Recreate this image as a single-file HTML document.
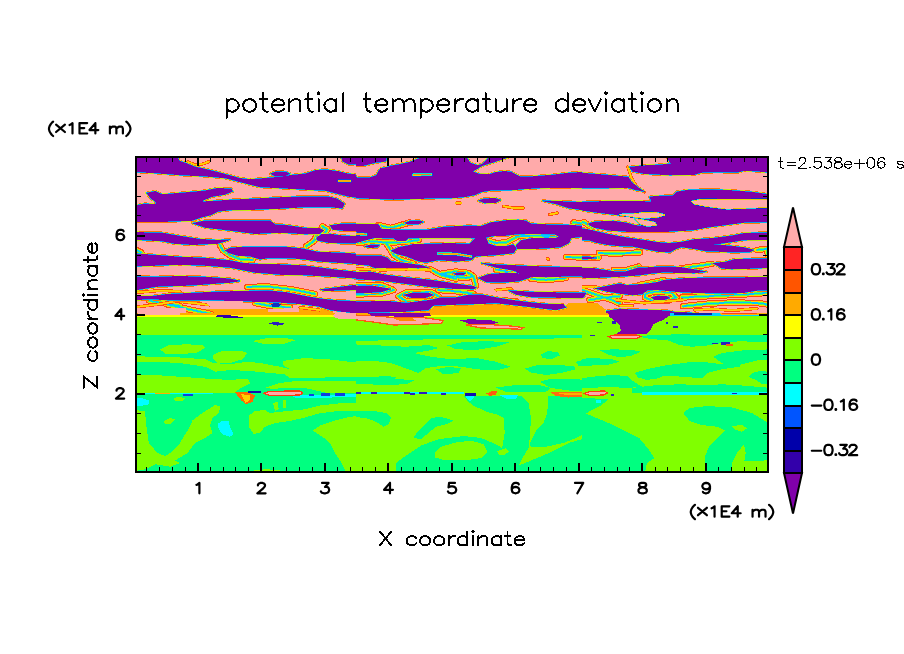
<!DOCTYPE html>
<html><head><meta charset="utf-8"><title>potential temperature deviation</title>
<style>
html,body{margin:0;padding:0;background:#fff;}
body{width:904px;height:654px;overflow:hidden;font-family:"Liberation Sans",sans-serif;}
svg{display:block;}
text{font-family:"Liberation Sans",sans-serif;fill:#000;}
.sem text{fill:#000;fill-opacity:0;stroke:none;}
</style></head><body>
<svg width="904" height="654" viewBox="0 0 904 654">
<rect width="904" height="654" fill="#fff"/>
<defs>
<clipPath id="plot"><rect x="136" y="157" width="632" height="315"/></clipPath>
<clipPath id="c1"><rect x="130" y="150" width="226" height="163"/></clipPath><clipPath id="c2"><rect x="356" y="150" width="226" height="163"/></clipPath><clipPath id="c3"><rect x="582" y="150" width="226" height="163"/></clipPath><clipPath id="c4"><rect x="130" y="313" width="226" height="163"/></clipPath><clipPath id="c5"><rect x="356" y="313" width="226" height="163"/></clipPath><clipPath id="c6"><rect x="582" y="313" width="226" height="163"/></clipPath>
<style>
.pu{fill:#8000aa;}
.pk{fill:#ffaaaa;}
.og{fill:#ffaa00;}
.yg{fill:#80ff00;}
.gr{fill:#00ff80;}
.cy{fill:#00ffff;}
.e1{fill:none;stroke:#ff7a00;stroke-width:11;stroke-linejoin:round;}
.e2{fill:none;stroke:#d8ff00;stroke-width:7.5;stroke-linejoin:round;}
.e3{fill:none;stroke:#00e0ff;stroke-width:4.5;stroke-linejoin:round;}
.e4{fill:none;stroke:#1030d0;stroke-width:2;stroke-linejoin:round;}
.ef{fill:#8000aa;stroke:none;}
.rb{fill:none;stroke-linecap:round;stroke-linejoin:round;}
.r1{stroke:#ff4a10;stroke-width:26;}
.r2{stroke:#ffd000;stroke-width:18;}
.r3{stroke:#50ff50;stroke-width:11;}
.r4{stroke:#00c8ff;stroke-width:5;}
.s1{stroke:#ff4a10;stroke-width:13;}
.s2{stroke:#ffb000;stroke-width:8;}
.s3{stroke:#fff000;stroke-width:3;}
.v1{stroke:#1040e0;stroke-width:15;}
.v2{stroke:#00e8d0;stroke-width:11;}
.v3{stroke:#e8f000;stroke-width:7;}
.v4{stroke:#ff5a20;stroke-width:3.5;}
.v5{stroke:#ffaaaa;stroke-width:3;}
.k1{fill:none;stroke:#1030d0;stroke-width:11;stroke-linejoin:round;}
.k2{fill:none;stroke:#00e0ff;stroke-width:7.5;stroke-linejoin:round;}
.k3{fill:none;stroke:#d8ff00;stroke-width:4.5;stroke-linejoin:round;}
.k4{fill:none;stroke:#ff7a00;stroke-width:2;stroke-linejoin:round;}
.kf{fill:#ffaaaa;stroke:none;}
</style>

</defs>
<g clip-path="url(#plot)" shape-rendering="crispEdges">
<rect x="136" y="157" width="632" height="160" fill="#ffaaaa"/>
<rect x="136" y="316" width="632" height="157" fill="#80ff00"/>
<g clip-path="url(#c1)"><g transform="translate(130,150) scale(0.25)">
<rect x="0" y="634" width="920" height="30" class="og"/>
<defs><g id="r1"><path d="M360 382L372 402L400 422L445 438L490 440"/><path d="M745 345L735 365L705 385"/><path d="M770 305L790 318L780 330"/><path d="M75 602L130 612L200 624"/><path d="M150 618L230 636L325 656"/><path d="M470 548L552 546L650 558L740 576"/><path d="M500 612L560 624L640 630"/><path d="M25 400L45 410L55 425"/></g></defs>
<use href="#r1" class="rb r1"/>
<use href="#r1" class="rb r2"/>
<use href="#r1" class="rb r3"/>
<use href="#r1" class="rb r4"/>
<defs><g id="s1"><path d="M200 606L300 618L400 628"/><path d="M25 628L110 618L180 606"/><path d="M30 570L120 562L200 566"/><path d="M680 630L760 640"/><path d="M232 48L262 60L290 56L315 47"/></g></defs>
<use href="#s1" class="rb s1"/>
<use href="#s1" class="rb s2"/>
<use href="#s1" class="rb s3"/>
<defs><g id="p1"><path d="M-20 0H165L200 45L225 53L260 67L300 76L350 88L400 102L440 113L480 118L550 112L600 108L650 100L700 95L740 82L780 78L830 85L870 95L920 100V192L870 185L830 175L780 162L700 158L600 152L520 148L480 138L430 125L380 112L300 105L200 100L100 92L-20 85Z"/><path d="M840 0L850 45L875 58L920 55V0Z"/><path d="M562 95L585 86L625 88L640 95L620 104L580 105Z"/><path d="M-20 222H25L60 215L100 218L105 210L85 195L65 172L100 165L130 178L200 172L300 163L350 153L405 155L412 165L380 178L330 186L295 200L290 207L400 200L500 195L600 190L700 186L790 186L830 196L858 215L850 233L800 228L700 228L600 234L500 238L400 240L352 246L325 260L290 268L250 282L150 286L-20 286Z"/><path d="M250 293L300 283L400 282L560 282L580 298L620 300L700 312L760 314L775 322L760 335L700 336L600 330L500 335L400 322L300 310Z"/><path d="M800 302L850 295L920 295V322L850 322L810 318Z"/><path d="M745 352L765 338L800 336L850 343L920 346V374L850 373L790 370L750 362Z"/><path d="M-20 329L125 331L200 344L275 356L350 361L400 358L380 366L350 374L250 379L175 374L125 364L-20 356Z"/><path d="M380 402L400 392L450 388L552 388L627 388L692 395L752 408L802 410L877 413L920 418V456L827 450L752 445L702 438L652 433L600 432L552 432L520 437L480 425L430 422L395 412Z"/><path d="M-20 412L100 420L200 428L300 432L400 442L450 452L500 456L600 458L700 463L770 472L830 480L920 489V514L800 506L700 500L600 498L500 490L400 470L300 462L200 458L100 462L-20 466Z"/><path d="M-20 505L100 508L200 505L300 508L400 515L440 524L400 530L250 541L110 546L25 560L-20 560Z"/><path d="M-20 585L85 585L150 577L250 572L350 567L452 565L552 562L627 570L702 585L762 595L827 602L920 606V654L852 647L802 640L752 625L677 615L602 610L527 607L452 605L375 602L300 600L225 602L150 600L85 596L-20 602Z"/><path d="M762 558L827 550L920 538V558L852 561L777 563Z"/></g></defs>
<use href="#p1" class="e1"/>
<use href="#p1" class="e2"/>
<use href="#p1" class="e3"/>
<use href="#p1" class="e4"/>
<use href="#p1" class="ef"/>
<defs><g id="v1"><path d="M835 124L880 124"/></g></defs>
<use href="#v1" class="rb v1"/>
<use href="#v1" class="rb v2"/>
<use href="#v1" class="rb v3"/>
<use href="#v1" class="rb v4"/>
<path d="M25 634L225 632L225 655L25 655Z" class="pk"/>
<path d="M300 606L452 604L452 634L330 634Z" class="pk"/>
<path d="M552 636L677 632L677 646L552 650Z" class="pk"/>
<path d="M812 645L920 655V680H800Z" class="pk"/>
<path d="M565 615L590 610L605 618L590 630L568 628Z" fill="#1030c0"/>
</g></g>
<g clip-path="url(#c2)"><g transform="translate(356,150) scale(0.25)">
<rect x="-20" y="634" width="940" height="30" class="og"/>
<path d="M290 664V640L310 622L400 618L500 615L560 612L700 628L800 640L830 630L850 612L920 610V664Z" class="og"/>
<defs><g id="r2"><path d="M90 300L140 312L180 300L215 290"/><path d="M0 372L60 366L130 370L200 368L250 360"/><path d="M120 372L135 395L150 420L180 440L230 455"/><path d="M520 360L560 372L600 370L640 350"/><path d="M640 345L720 343L800 345"/><path d="M340 495L400 486L450 492L470 505L440 512L380 505Z"/><path d="M300 478L340 500L400 515"/><path d="M470 505L480 545"/><path d="M170 585L200 570L300 568L330 585L300 605L200 605Z"/><path d="M0 540L100 540L150 560L100 575L0 578"/><path d="M840 428L920 430"/><path d="M870 290L920 295"/><path d="M560 478L620 488L660 494"/><path d="M700 515L760 520L840 512"/><path d="M330 560L400 565L470 575"/><path d="M480 590L560 600L640 605"/></g></defs>
<use href="#r2" class="rb r1"/>
<use href="#r2" class="rb r2"/>
<use href="#r2" class="rb r3"/>
<use href="#r2" class="rb r4"/>
<defs><g id="s2"><path d="M590 225L630 232L670 232"/><path d="M775 258L805 252"/><path d="M400 212L420 212"/><path d="M0 475L100 480L200 478L300 480"/><path d="M560 560L620 555"/><path d="M765 435L770 437"/></g></defs>
<use href="#s2" class="rb s1"/>
<use href="#s2" class="rb s2"/>
<use href="#s2" class="rb s3"/>
<defs><g id="p2"><path d="M-70 0L-54 45L-29 58L0 62L34 62L56 56L82 50L120 45L123 28V0Z"/><path d="M-40 95L-24 93L-11 97L5 110L56 110L82 101L90 85L98 74L122 69L136 64L176 57L216 48L260 30V0H442V28L457 52L487 62L507 55L532 28V0H612V28L592 35L547 50L507 62L467 86L492 96L532 98L556 90L592 85L622 88L642 100L656 106L707 106L756 102L784 100L850 92L920 88V152L850 150L784 150L732 152L682 155L622 160L542 161L502 168L476 180L432 188L382 192L332 192L150 198L0 192L-40 190Z"/><path d="M490 203L510 195L555 193L580 200L560 210L515 212Z"/><path d="M745 203L830 206L920 210V242L850 232L800 216Z"/><path d="M195 292L215 284L255 283L270 288L250 296L210 297Z"/><path d="M-20 296L90 298L100 316L180 320L280 320L350 308L452 303L500 305L540 290L600 282L650 280L680 283L700 295L760 298L850 300L920 305V345L860 352L852 372L820 388L760 393L700 395L645 395L640 380L660 362L700 354L760 352L800 353L812 345L795 337L700 335L640 337L600 342L560 342L520 350L480 352L375 351L280 351L210 353L200 363L165 363L150 353L75 351L52 357L0 371L-20 374Z"/><path d="M140 403L170 390L225 378L280 376L375 373L452 376L480 352L520 350L530 375L560 385L600 385L630 378L642 395L630 412L560 420L480 425L460 440L400 445L330 440L280 450L250 445L200 425L160 415Z"/><path d="M35 386L60 379L95 380L85 389L55 391Z"/><path d="M-20 422L100 423L125 431L140 446L200 453L260 461L290 470L250 472L200 470L130 470L75 472L50 461L-20 456Z"/><path d="M-20 490L60 488L120 500L200 510L300 520L400 535L470 545L482 551L470 556L400 555L300 548L200 535L100 522L-20 515Z"/><path d="M500 452L560 458L640 462L700 465L800 468L920 470V505L850 505L760 508L700 506L692 512L650 525L580 530L520 528L490 512L530 497L600 492L650 494L640 486L620 480L560 470Z"/><path d="M-20 545L60 543L140 556L100 568L30 572L-20 572Z"/><path d="M190 580L230 571L290 572L310 580L280 590L220 590Z"/><path d="M610 562L700 568L800 570L920 572V592L800 590L700 588L640 578Z"/><path d="M-20 606L60 606L130 605L200 612L300 600L340 590L400 590L450 580L500 578L560 590L620 600L700 610L760 616L830 618L840 630L800 640L700 628L560 612L500 615L400 618L310 622L290 640L200 646L-20 652Z"/><path d="M390 495L410 490L440 492L430 500L400 500Z"/></g></defs>
<use href="#p2" class="e1"/>
<use href="#p2" class="e2"/>
<use href="#p2" class="e3"/>
<use href="#p2" class="e4"/>
<use href="#p2" class="ef"/>
<defs><g id="v2"><path d="M330 414L400 416L460 426"/><path d="M230 99L300 98"/><path d="M-20 334L40 338"/></g></defs>
<use href="#v2" class="rb v1"/>
<use href="#v2" class="rb v2"/>
<use href="#v2" class="rb v3"/>
<use href="#v2" class="rb v4"/>
</g></g>
<g clip-path="url(#c3)"><g transform="translate(582,150) scale(0.25)">
<path d="M-48 612L60 612L97 640L97 670H-48Z" class="og"/>
<defs><g id="r3"><path d="M-28 280L10 290L40 310"/><path d="M67 412L140 414L232 410"/><path d="M-48 430L67 430"/><path d="M360 480L420 470L480 462L520 455"/><path d="M127 480L177 480L227 466"/><path d="M230 540L327 520"/><path d="M2 560L60 580L120 600L152 615"/><path d="M30 600L90 590L150 585"/><path d="M252 575L300 565L360 572L377 590L340 604L280 602L252 590Z"/><path d="M700 400L740 395L745 430"/><path d="M400 590L500 585L600 580L700 575L745 570"/><path d="M404 625L500 615L600 610L700 612L745 618"/></g></defs>
<use href="#r3" class="rb r1"/>
<use href="#r3" class="rb r2"/>
<use href="#r3" class="rb r3"/>
<use href="#r3" class="rb r4"/>
<defs><g id="s3"><path d="M183 68L197 110L217 145L250 168"/><path d="M152 622L202 622"/><path d="M137 600L250 612L404 600"/><path d="M450 640L520 636L600 642L700 634"/><path d="M-48 545L60 548"/></g></defs>
<use href="#s3" class="rb s1"/>
<use href="#s3" class="rb s2"/>
<use href="#s3" class="rb s3"/>
<defs><g id="p3"><path d="M340 0V28L355 55L300 60L250 62L190 68L200 85L250 95L350 100L450 98L480 90L540 88L620 90L650 82L700 85L760 90V0Z"/><path d="M-20 90L0 92L100 100L185 108L200 130L225 150L250 166L215 160L180 150L100 152L-20 152Z"/><path d="M-48 206L0 208L100 205L225 205L278 207L270 188L290 185L365 182L380 167L425 160L452 160L520 158L600 162L680 168L760 180V288L738 288L648 290L573 300L498 310L448 320L348 326L302 326L252 326L177 326L102 321L52 311L27 299L27 294L52 287L127 284L177 291L212 301L252 306L292 304L300 296L285 284L240 276L212 266L152 261L52 249L-48 234Z"/><path d="M-48 306L2 314L52 324L102 336L152 346L202 354L252 361L302 369L348 373L398 368L448 358L523 353L598 343L648 333L760 330V358L648 360L598 368L528 378L598 384L648 390L688 400L673 408L598 409L548 406L498 405L448 395L398 388L378 395L352 409L302 406L252 396L202 386L152 384L102 379L52 369L27 361L-48 359Z"/><path d="M523 453L573 448L608 438L648 436L760 434V470L673 474L598 476L558 473L538 460Z"/><path d="M-48 471L52 474L127 486L177 486L227 470L252 471L302 467L348 466L398 470L448 478L498 487L448 492L398 491L327 489L277 494L227 501L152 506L52 511L-48 509Z"/><path d="M52 554L102 544L152 534L177 541L252 536L302 529L327 521L377 516L404 514L500 511L650 510L760 508V561L700 562L650 570L600 573L500 572L404 569L352 564L302 559L262 561L242 576L202 580L152 574L102 566Z"/><path d="M277 590L300 584L340 585L352 592L330 599L290 599Z"/><path d="M-48 566L17 572L5 591L-48 591Z"/><path d="M-48 428L20 426L60 432L20 436L-48 436Z"/><path d="M97 644L152 636L202 639L302 641L352 644L404 659V680H97Z"/><path d="M348 648L420 650L473 656L473 670H348Z"/></g></defs>
<use href="#p3" class="e1"/>
<use href="#p3" class="e2"/>
<use href="#p3" class="e3"/>
<use href="#p3" class="e4"/>
<use href="#p3" class="ef"/>
<defs><g id="k3"><path d="M440 206L480 198L560 200L650 200L760 198V228L650 232L580 235L500 225L450 215Z"/><path d="M150 258L215 256L250 250L300 252L330 260L300 268L250 272L215 268Z"/><path d="M212 276L250 282L290 290L297 300L260 304L230 294Z"/></g></defs>
<use href="#k3" class="k1"/>
<use href="#k3" class="k2"/>
<use href="#k3" class="k3"/>
<use href="#k3" class="k4"/>
<use href="#k3" class="kf"/>
</g></g>
<g clip-path="url(#c4)"><g transform="translate(130,313) scale(0.25)">
<g class="gr"><path d="M-20 88H920V680H-20Z"/></g>
<g class="yg"><path d="M120 145L150 130L220 125L290 128L300 140L270 158L200 165L140 162Z"/><path d="M335 165L370 152L440 150L470 160L450 185L400 200L350 198L330 180Z"/><path d="M490 112L540 102L620 100L665 108L620 122L540 125Z"/><path d="M-20 172L100 175L200 178L300 185L330 200L400 205L470 195L520 200L600 215L640 225L620 245L560 240L480 232L400 228L340 235L300 215L200 200L100 195L-20 195Z"/><path d="M610 192L700 180L800 186L920 200V256L850 255L780 258L700 258L640 262L620 245L640 225L615 212Z"/><path d="M545 298L600 280L680 270L780 272L860 270L920 272V318L780 318L700 300L620 298L570 305Z"/><path d="M-20 245L100 248L200 255L300 262L400 268L470 262L482 282L440 302L418 318L-20 318Z"/><path d="M-20 385L60 392L65 450L75 520L110 560L160 580L200 600L160 615L100 605L60 625L-20 640Z"/><path d="M340 368L362 375L355 400L330 420L320 450L330 480L300 500L260 520L230 560L180 590L130 600L120 585L160 560L200 520L230 470L250 430L290 400Z"/><path d="M135 432L160 420L180 425L165 442L140 445Z"/><path d="M175 340L200 335L222 342L210 352L180 352Z"/><path d="M475 410L500 392L540 388L560 400L600 395L700 385L760 370L830 362L920 358V392L830 392L755 402L700 418L640 432L580 440L540 455L520 478L495 485L478 460Z"/><path d="M730 470L760 450L820 430L880 415L920 412V650H870L850 610L840 590L820 560L800 520L770 495Z"/><path d="M572 360L590 355L595 385L580 392Z"/><path d="M610 350L625 348L622 380L612 378Z"/><path d="M480 632L540 625L600 628L600 640L480 640Z"/></g>
<g class="cy"><path d="M-20 340L40 338L75 350L78 365L40 372L-20 370Z"/><path d="M350 445L370 430L395 432L400 455L415 485L400 495L370 485L355 465Z"/><path d="M0 319H330V324H0Z"/><path d="M640 326L760 330L904 322V334L760 340L660 338Z"/></g>
<rect x="-20" y="-10" width="940" height="20" class="og"/>
<rect x="-20" y="9" width="940" height="5" fill="#ffff00"/>
<path d="M810 9L830 -5H920V22L850 25L820 20Z" class="pk"/>
<path d="M30 0H200V6H30Z" class="pk"/>
<path d="M330 12L380 6L430 14L460 20L400 22Z" fill="#3300aa"/>
<path d="M555 42L580 35L625 44L590 50Z" fill="#2a20c0"/>
<path d="M418 316L470 316L500 330L490 355L465 365L445 350L430 330Z" fill="#ff6a00"/>
<path d="M445 325L480 328L478 350L462 358Z" fill="#ffd000"/>
<path d="M535 321L560 313L680 312L692 320L680 328L560 331Z" fill="#ffaaaa" stroke="#ff3a10" stroke-width="5"/>
<path d="M470 312H525V320H470Z" fill="#1010b0"/>
<path d="M210 322H250V332H210ZM715 322H735V331H715ZM765 320H800V332H765ZM820 320H860V330H820Z" fill="#1040e0"/>
<path d="M100 318H160V323H100Z" fill="#ffb000"/>
</g></g>
<g clip-path="url(#c5)"><g transform="translate(356,313) scale(0.25)">
<g class="gr"><path d="M-20 88H920V100L600 105L400 102L200 108L-20 112Z"/><path d="M-20 125L100 130L200 135L290 128L330 140L290 150L230 160L300 175L380 185L480 180L560 195L620 215L560 230L480 225L420 215L350 210L280 220L250 240L200 222L140 200L60 190L-20 190Z"/><path d="M365 130L420 118L520 112L610 118L560 135L480 148L400 145Z"/><path d="M740 165L770 152L810 158L815 170L780 185L745 180Z"/><path d="M675 222L720 210L800 208L870 212L880 225L820 240L760 248L700 238Z"/><path d="M735 275L780 262L850 262L920 268V310L850 310L780 300Z"/><path d="M880 195L920 185V215L890 212Z"/><path d="M60 262L100 252L160 255L150 275L90 280Z"/><path d="M320 225L370 215L420 222L410 240L350 245Z"/><path d="M560 298L640 288L740 290L780 300L760 315L600 316Z"/><path d="M-20 258L60 255L150 262L230 270L200 285L120 288L40 285L-20 286Z"/><path d="M-20 392L60 390L120 400L140 420L130 445L110 455L80 435L40 420L-20 415Z"/><path d="M430 330L560 330L660 330L690 360L700 420L695 500L690 540L660 590L650 610L600 600L585 540L595 480L590 420L560 405L520 395L490 380L470 372L450 355Z"/><path d="M770 330H920V480L880 500L830 520L760 535L700 538L695 520L720 470L750 440L765 400Z"/><path d="M230 500L250 470L280 440L300 420L340 415L390 430L360 445L320 455L290 480L260 505Z"/><path d="M160 600L200 570L260 530L330 505L430 492L500 500L560 525L585 540L600 600L650 610L700 590L760 565L800 545L850 520L920 500V650H160Z"/></g>
<g class="yg"><path d="M315 560L340 535L400 518L460 510L510 525L525 555L500 580L430 590L350 588L318 578Z"/><path d="M565 552L600 540L612 555L590 570L568 565Z"/></g>
<g class="cy"><path d="M0 316H430V324H0Z"/><path d="M570 326L650 326L640 345L600 342Z"/><path d="M435 322L480 322L470 340L455 355L440 340Z"/></g>
<rect x="-20" y="-10" width="940" height="20" class="og"/>
<rect x="-20" y="9" width="940" height="5" fill="#ffff00"/>
<path d="M-20 8L60 10L150 18L250 16L350 30L340 42L250 45L150 48L60 35L-20 25Z" class="pk" stroke="#ff5a10" stroke-width="5"/>
<path d="M150 22L220 18L240 30L180 34Z" fill="#ff8a00"/>
<path d="M40 -5H290L300 12L240 16L150 14L60 10Z" class="pu"/>
<path d="M440 48L520 46L600 50L670 58L660 65L580 62L500 60Z" class="pk" stroke="#ff5a10" stroke-width="5"/>
<path d="M418 30L450 25L540 28L568 38L540 46L450 42Z" class="pu"/>
<path d="M0 316H20V323H0ZM60 316H82V323H60ZM190 316H215V324H190ZM215 320H235V328H215ZM250 316H285V324H250ZM340 319H360V326H340Z" fill="#2a20c0"/>
<path d="M435 320H480V332H435Z" fill="#1010b0"/>
<path d="M520 322L545 312L565 314L560 326L535 332Z" fill="#ff5a10"/>
<path d="M780 318L830 314L920 318V336L850 338L800 332Z" fill="#ff6a10"/>
<path d="M800 320L860 318L920 322V328L850 330Z" fill="#ffb000"/>
</g></g>
<g clip-path="url(#c6)"><g transform="translate(582,313) scale(0.25)">
<g class="gr"><path d="M230 95L270 88L400 85L500 88L600 90L760 88V115L700 118L640 112L560 120L500 130L440 135L390 128L340 108L280 105Z"/><path d="M70 150L120 145L200 148L235 155L200 170L150 178L110 168Z"/><path d="M-20 185L40 180L120 185L150 195L100 208L-20 212Z"/><path d="M525 175L560 160L640 150L760 145V185L700 190L640 205L600 215L560 200Z"/><path d="M210 240L260 225L330 210L420 198L480 195L560 205L640 200L630 215L560 225L500 240L480 262L440 258L400 255L330 250L300 262L260 268L225 258Z"/><path d="M665 255L690 235L730 232L760 240V285L720 285L700 270Z"/><path d="M-20 265L40 255L120 248L180 252L200 270L240 295L180 300L100 295L40 300L-20 300Z"/><path d="M200 300L300 288L400 285L480 290L560 285L640 290L760 300V320H200Z"/><path d="M-20 338L106 345L76 370L26 395L16 403L-20 403Z"/><path d="M-20 400L16 402L106 440L229 500L270 550L290 580L260 600L250 650H-20Z"/><path d="M405 400L430 380L500 372L600 378L680 400L745 440L760 450V650H490L490 580L510 530L545 495L570 470L540 455L480 448L430 432Z"/></g>
<g class="yg"><path d="M600 452L640 448L660 462L640 475L610 465Z"/><path d="M600 650L600 600L620 560L648 525L655 560L650 590L700 592L760 588V650Z"/></g>
<g class="cy"><path d="M240 316H760V327H240Z"/><path d="M55 348H75V358H55Z"/></g>
<rect x="-20" y="-10" width="130" height="20" class="og"/>
<rect x="-20" y="9" width="130" height="5" fill="#ffff00"/>
<path d="M340 -5H760V10L700 14L600 12L500 14L420 10L350 12Z" fill="#00d0ff"/>
<path d="M360 -5H520V6L440 8L370 6Z" fill="#1020b0"/>
<path d="M540 -5H760V8L640 10L560 8Z" fill="#ffb000"/>
<path d="M560 -5H700V4H560Z" fill="#ff4a10"/>
<path d="M100 -10L110 15L130 30L150 50L155 70L140 82L260 82L275 65L285 45L330 25L350 10L355 -10Z" class="pu"/>
<path d="M120 30H135V45H120ZM335 35H345V45H335ZM365 52H385V58H365ZM60 35H80V40H60ZM30 86H50V91H30Z" fill="#2a20c0"/>
<path d="M105 95L130 88L220 88L235 95L215 102L125 102Z" fill="#ffaaaa" stroke="#ff3a10" stroke-width="5"/>
<path d="M520 118H545V124H520ZM555 115H590V128H555Z" fill="#2a20c0"/>
<path d="M575 122H605V130H575Z" fill="#ff5a10"/>
<path d="M10 322L30 314L90 312L102 320L88 328L30 330Z" fill="#ffaaaa" stroke="#ff3a10" stroke-width="5"/>
<path d="M115 322H128V332H115ZM600 318H620V324H600Z" fill="#2a20c0"/>
</g></g>
</g>
<g stroke="#000" fill="none" shape-rendering="crispEdges">
<path d="M146.5 471V467M146.5 158V162" stroke-width="1"/><path d="M159.5 471V467M159.5 158V162" stroke-width="1"/><path d="M172.5 471V467M172.5 158V162" stroke-width="1"/><path d="M185.5 471V467M185.5 158V162" stroke-width="1"/><path d="M198 471V463M198 158V166" stroke-width="2"/><path d="M210.5 471V467M210.5 158V162" stroke-width="1"/><path d="M223.5 471V467M223.5 158V162" stroke-width="1"/><path d="M235.5 471V467M235.5 158V162" stroke-width="1"/><path d="M248.5 471V467M248.5 158V162" stroke-width="1"/><path d="M261 471V463M261 158V166" stroke-width="2"/><path d="M273.5 471V467M273.5 158V162" stroke-width="1"/><path d="M286.5 471V467M286.5 158V162" stroke-width="1"/><path d="M299.5 471V467M299.5 158V162" stroke-width="1"/><path d="M312.5 471V467M312.5 158V162" stroke-width="1"/><path d="M325 471V463M325 158V166" stroke-width="2"/><path d="M337.5 471V467M337.5 158V162" stroke-width="1"/><path d="M350.5 471V467M350.5 158V162" stroke-width="1"/><path d="M362.5 471V467M362.5 158V162" stroke-width="1"/><path d="M375.5 471V467M375.5 158V162" stroke-width="1"/><path d="M388 471V463M388 158V166" stroke-width="2"/><path d="M401.5 471V467M401.5 158V162" stroke-width="1"/><path d="M413.5 471V467M413.5 158V162" stroke-width="1"/><path d="M426.5 471V467M426.5 158V162" stroke-width="1"/><path d="M439.5 471V467M439.5 158V162" stroke-width="1"/><path d="M452 471V463M452 158V166" stroke-width="2"/><path d="M464.5 471V467M464.5 158V162" stroke-width="1"/><path d="M477.5 471V467M477.5 158V162" stroke-width="1"/><path d="M489.5 471V467M489.5 158V162" stroke-width="1"/><path d="M502.5 471V467M502.5 158V162" stroke-width="1"/><path d="M515 471V463M515 158V166" stroke-width="2"/><path d="M528.5 471V467M528.5 158V162" stroke-width="1"/><path d="M540.5 471V467M540.5 158V162" stroke-width="1"/><path d="M553.5 471V467M553.5 158V162" stroke-width="1"/><path d="M566.5 471V467M566.5 158V162" stroke-width="1"/><path d="M579 471V463M579 158V166" stroke-width="2"/><path d="M591.5 471V467M591.5 158V162" stroke-width="1"/><path d="M604.5 471V467M604.5 158V162" stroke-width="1"/><path d="M617.5 471V467M617.5 158V162" stroke-width="1"/><path d="M629.5 471V467M629.5 158V162" stroke-width="1"/><path d="M642 471V463M642 158V166" stroke-width="2"/><path d="M655.5 471V467M655.5 158V162" stroke-width="1"/><path d="M667.5 471V467M667.5 158V162" stroke-width="1"/><path d="M680.5 471V467M680.5 158V162" stroke-width="1"/><path d="M693.5 471V467M693.5 158V162" stroke-width="1"/><path d="M706 471V463M706 158V166" stroke-width="2"/><path d="M718.5 471V467M718.5 158V162" stroke-width="1"/><path d="M731.5 471V467M731.5 158V162" stroke-width="1"/><path d="M744.5 471V467M744.5 158V162" stroke-width="1"/><path d="M756.5 471V467M756.5 158V162" stroke-width="1"/>
<path d="M137 453.5H141M767 453.5H763" stroke-width="1"/><path d="M137 433.5H141M767 433.5H763" stroke-width="1"/><path d="M137 413.5H141M767 413.5H763" stroke-width="1"/><path d="M137 394H145M767 394H759" stroke-width="2"/><path d="M137 374.5H141M767 374.5H763" stroke-width="1"/><path d="M137 354.5H141M767 354.5H763" stroke-width="1"/><path d="M137 334.5H141M767 334.5H763" stroke-width="1"/><path d="M137 315H145M767 315H759" stroke-width="2"/><path d="M137 295.5H141M767 295.5H763" stroke-width="1"/><path d="M137 275.5H141M767 275.5H763" stroke-width="1"/><path d="M137 255.5H141M767 255.5H763" stroke-width="1"/><path d="M137 236H145M767 236H759" stroke-width="2"/><path d="M137 215.5H141M767 215.5H763" stroke-width="1"/><path d="M137 196.5H141M767 196.5H763" stroke-width="1"/><path d="M137 176.5H141M767 176.5H763" stroke-width="1"/>
<rect x="136" y="157" width="632" height="315" stroke-width="2"/>
</g>
<g stroke="#000" stroke-width="2" stroke-linejoin="miter">
<rect x="784" y="247" width="18" height="23" fill="#ff2424" shape-rendering="crispEdges"/><rect x="784" y="270" width="18" height="23" fill="#ff5500" shape-rendering="crispEdges"/><rect x="784" y="293" width="18" height="22" fill="#ffaa00" shape-rendering="crispEdges"/><rect x="784" y="315" width="18" height="23" fill="#ffff00" shape-rendering="crispEdges"/><rect x="784" y="338" width="18" height="22" fill="#80ff00" shape-rendering="crispEdges"/><rect x="784" y="360" width="18" height="23" fill="#00ff80" shape-rendering="crispEdges"/><rect x="784" y="383" width="18" height="23" fill="#00ffff" shape-rendering="crispEdges"/><rect x="784" y="406" width="18" height="22" fill="#0055ff" shape-rendering="crispEdges"/><rect x="784" y="428" width="18" height="23" fill="#0000aa" shape-rendering="crispEdges"/><rect x="784" y="451" width="18" height="22" fill="#3300aa" shape-rendering="crispEdges"/><path d="M784 247L793 207.5L802 247Z" fill="#ffaaaa"/><path d="M784 473L793 513.5L802 473Z" fill="#8000aa"/>
</g>
<g transform="translate(193.89,493.30) scale(0.59,0.495)" stroke-width="2.2" fill="none" stroke="#000" stroke-linecap="round" stroke-linejoin="round"><path vector-effect="non-scaling-stroke" transform="translate(-1.65,0)" d="M6 -17L8 -18L11 -21V0"/></g>
<g transform="translate(256.53,493.30) scale(0.59,0.495)" stroke-width="2.2" fill="none" stroke="#000" stroke-linecap="round" stroke-linejoin="round"><path vector-effect="non-scaling-stroke" transform="translate(-1.65,0)" d="M4 -16L4 -17L5 -19L6 -20L8 -21L12 -21L14 -20L15 -19L16 -17L16 -15L15 -13L13 -10L3 0L17 0"/></g>
<g transform="translate(320.06,493.30) scale(0.59,0.495)" stroke-width="2.2" fill="none" stroke="#000" stroke-linecap="round" stroke-linejoin="round"><path vector-effect="non-scaling-stroke" transform="translate(-1.65,0)" d="M5 -21L16 -21L10 -13L13 -13L15 -12L16 -11L17 -8L17 -6L16 -3L14 -1L11 0L8 0L5 -1L4 -2L3 -4"/></g>
<g transform="translate(383.30,493.30) scale(0.59,0.495)" stroke-width="2.2" fill="none" stroke="#000" stroke-linecap="round" stroke-linejoin="round"><path vector-effect="non-scaling-stroke" transform="translate(-1.65,0)" d="M13 -21L3 -7H18M13 -21V0"/></g>
<g transform="translate(447.12,493.30) scale(0.59,0.495)" stroke-width="2.2" fill="none" stroke="#000" stroke-linecap="round" stroke-linejoin="round"><path vector-effect="non-scaling-stroke" transform="translate(-1.65,0)" d="M15 -21L5 -21L4 -12L5 -13L8 -14L11 -14L14 -13L16 -11L17 -8L17 -6L16 -3L14 -1L11 0L8 0L5 -1L4 -2L3 -4"/></g>
<g transform="translate(510.36,493.30) scale(0.59,0.495)" stroke-width="2.2" fill="none" stroke="#000" stroke-linecap="round" stroke-linejoin="round"><path vector-effect="non-scaling-stroke" transform="translate(-1.65,0)" d="M16 -18L15 -20L12 -21L10 -21L7 -20L5 -17L4 -12L4 -7L5 -3L7 -1L10 0L11 0L14 -1L16 -3L17 -6L17 -7L16 -10L14 -12L11 -13L10 -13L7 -12L5 -10L4 -7"/></g>
<g transform="translate(574.18,493.30) scale(0.59,0.495)" stroke-width="2.2" fill="none" stroke="#000" stroke-linecap="round" stroke-linejoin="round"><path vector-effect="non-scaling-stroke" transform="translate(-1.65,0)" d="M17 -21L7 0M3 -21H17"/></g>
<g transform="translate(637.71,493.30) scale(0.59,0.495)" stroke-width="2.2" fill="none" stroke="#000" stroke-linecap="round" stroke-linejoin="round"><path vector-effect="non-scaling-stroke" transform="translate(-1.65,0)" d="M8 -21L5 -20L4 -18L4 -16L5 -14L7 -13L11 -12L14 -11L16 -9L17 -7L17 -4L16 -2L15 -1L12 0L8 0L5 -1L4 -2L3 -4L3 -7L4 -9L6 -11L9 -12L13 -13L15 -14L16 -16L16 -18L15 -20L12 -21L8 -21"/></g>
<g transform="translate(701.54,493.30) scale(0.59,0.495)" stroke-width="2.2" fill="none" stroke="#000" stroke-linecap="round" stroke-linejoin="round"><path vector-effect="non-scaling-stroke" transform="translate(-1.65,0)" d="M16 -14L15 -11L13 -9L10 -8L9 -8L6 -9L4 -11L3 -14L3 -15L4 -18L6 -20L9 -21L10 -21L13 -20L15 -18L16 -14L16 -9L15 -4L13 -1L10 0L8 0L5 -1L4 -3"/></g>
<g transform="translate(115.14,398.60) scale(0.59,0.495)" stroke-width="2.2" fill="none" stroke="#000" stroke-linecap="round" stroke-linejoin="round"><path vector-effect="non-scaling-stroke" transform="translate(-1.65,0)" d="M4 -16L4 -17L5 -19L6 -20L8 -21L12 -21L14 -20L15 -19L16 -17L16 -15L15 -13L13 -10L3 0L17 0"/></g>
<g transform="translate(114.55,319.40) scale(0.59,0.495)" stroke-width="2.2" fill="none" stroke="#000" stroke-linecap="round" stroke-linejoin="round"><path vector-effect="non-scaling-stroke" transform="translate(-1.65,0)" d="M13 -21L3 -7H18M13 -21V0"/></g>
<g transform="translate(115.14,240.20) scale(0.59,0.495)" stroke-width="2.2" fill="none" stroke="#000" stroke-linecap="round" stroke-linejoin="round"><path vector-effect="non-scaling-stroke" transform="translate(-1.65,0)" d="M16 -18L15 -20L12 -21L10 -21L7 -20L5 -17L4 -12L4 -7L5 -3L7 -1L10 0L11 0L14 -1L16 -3L17 -6L17 -7L16 -10L14 -12L11 -13L10 -13L7 -12L5 -10L4 -7"/></g>
<g transform="translate(811.00,274.40) scale(0.59,0.495)" stroke-width="2.2" fill="none" stroke="#000" stroke-linecap="round" stroke-linejoin="round"><path vector-effect="non-scaling-stroke" transform="translate(-1.65,0)" d="M9 -21L6 -20L4 -17L3 -12L3 -9L4 -4L6 -1L9 0L11 0L14 -1L16 -4L17 -9L17 -12L16 -17L14 -20L11 -21L9 -21"/><path vector-effect="non-scaling-stroke" transform="translate(15.88,0)" d="M4.5 -1.6H5.5V-0.4H4.5Z"/><path vector-effect="non-scaling-stroke" transform="translate(23.40,0)" d="M5 -21L16 -21L10 -13L13 -13L15 -12L16 -11L17 -8L17 -6L16 -3L14 -1L11 0L8 0L5 -1L4 -2L3 -4"/><path vector-effect="non-scaling-stroke" transform="translate(40.10,0)" d="M4 -16L4 -17L5 -19L6 -20L8 -21L12 -21L14 -20L15 -19L16 -17L16 -15L15 -13L13 -10L3 0L17 0"/></g>
<g transform="translate(811.00,319.60) scale(0.59,0.495)" stroke-width="2.2" fill="none" stroke="#000" stroke-linecap="round" stroke-linejoin="round"><path vector-effect="non-scaling-stroke" transform="translate(-1.65,0)" d="M9 -21L6 -20L4 -17L3 -12L3 -9L4 -4L6 -1L9 0L11 0L14 -1L16 -4L17 -9L17 -12L16 -17L14 -20L11 -21L9 -21"/><path vector-effect="non-scaling-stroke" transform="translate(15.88,0)" d="M4.5 -1.6H5.5V-0.4H4.5Z"/><path vector-effect="non-scaling-stroke" transform="translate(23.40,0)" d="M6 -17L8 -18L11 -21V0"/><path vector-effect="non-scaling-stroke" transform="translate(40.10,0)" d="M16 -18L15 -20L12 -21L10 -21L7 -20L5 -17L4 -12L4 -7L5 -3L7 -1L10 0L11 0L14 -1L16 -3L17 -6L17 -7L16 -10L14 -12L11 -13L10 -13L7 -12L5 -10L4 -7"/></g>
<g transform="translate(811.00,364.80) scale(0.59,0.495)" stroke-width="2.2" fill="none" stroke="#000" stroke-linecap="round" stroke-linejoin="round"><path vector-effect="non-scaling-stroke" transform="translate(-1.65,0)" d="M9 -21L6 -20L4 -17L3 -12L3 -9L4 -4L6 -1L9 0L11 0L14 -1L16 -4L17 -9L17 -12L16 -17L14 -20L11 -21L9 -21"/></g>
<g transform="translate(810.71,410.00) scale(0.59,0.495)" stroke-width="2.2" fill="none" stroke="#000" stroke-linecap="round" stroke-linejoin="round"><path vector-effect="non-scaling-stroke" transform="translate(-2.14,0)" d="M4 -9H20"/><path vector-effect="non-scaling-stroke" transform="translate(20.06,0)" d="M9 -21L6 -20L4 -17L3 -12L3 -9L4 -4L6 -1L9 0L11 0L14 -1L16 -4L17 -9L17 -12L16 -17L14 -20L11 -21L9 -21"/><path vector-effect="non-scaling-stroke" transform="translate(37.58,0)" d="M4.5 -1.6H5.5V-0.4H4.5Z"/><path vector-effect="non-scaling-stroke" transform="translate(45.11,0)" d="M6 -17L8 -18L11 -21V0"/><path vector-effect="non-scaling-stroke" transform="translate(61.81,0)" d="M16 -18L15 -20L12 -21L10 -21L7 -20L5 -17L4 -12L4 -7L5 -3L7 -1L10 0L11 0L14 -1L16 -3L17 -6L17 -7L16 -10L14 -12L11 -13L10 -13L7 -12L5 -10L4 -7"/></g>
<g transform="translate(810.71,455.20) scale(0.59,0.495)" stroke-width="2.2" fill="none" stroke="#000" stroke-linecap="round" stroke-linejoin="round"><path vector-effect="non-scaling-stroke" transform="translate(-2.14,0)" d="M4 -9H20"/><path vector-effect="non-scaling-stroke" transform="translate(20.06,0)" d="M9 -21L6 -20L4 -17L3 -12L3 -9L4 -4L6 -1L9 0L11 0L14 -1L16 -4L17 -9L17 -12L16 -17L14 -20L11 -21L9 -21"/><path vector-effect="non-scaling-stroke" transform="translate(37.58,0)" d="M4.5 -1.6H5.5V-0.4H4.5Z"/><path vector-effect="non-scaling-stroke" transform="translate(45.11,0)" d="M5 -21L16 -21L10 -13L13 -13L15 -12L16 -11L17 -8L17 -6L16 -3L14 -1L11 0L8 0L5 -1L4 -2L3 -4"/><path vector-effect="non-scaling-stroke" transform="translate(61.81,0)" d="M4 -16L4 -17L5 -19L6 -20L8 -21L12 -21L14 -20L15 -19L16 -17L16 -15L15 -13L13 -10L3 0L17 0"/></g>
<g transform="translate(46.88,133.50) scale(0.59,0.495)" stroke-width="2.2" fill="none" stroke="#000" stroke-linecap="round" stroke-linejoin="round"><path vector-effect="non-scaling-stroke" transform="translate(-0.40,0)" d="M11 -24L9 -22L7 -19L5 -15L4 -11L4 -8L5 -4L7 0L9 3L11 5"/><path vector-effect="non-scaling-stroke" transform="translate(12.59,0)" d="M3 -18L18 -3M18 -18L3 -3"/><path vector-effect="non-scaling-stroke" transform="translate(32.42,0)" d="M6 -17L8 -18L11 -21V0"/><path vector-effect="non-scaling-stroke" transform="translate(51.30,0)" d="M4 -21V0M4 -21H17M4 -11H12M4 0H17"/><path vector-effect="non-scaling-stroke" transform="translate(69.18,0)" d="M13 -21L3 -7H18M13 -21V0"/><path vector-effect="non-scaling-stroke" transform="translate(102.83,0)" d="M4 -14V0M4 -10L7 -13L9 -14L12 -14L14 -13L15 -10L15 0M15 -10L18 -13L20 -14L23 -14L25 -13L26 -10L26 0"/><path vector-effect="non-scaling-stroke" transform="translate(131.56,0)" d="M3 -24L5 -22L7 -19L9 -15L10 -11L10 -8L9 -4L7 0L5 3L3 5"/></g>
<g transform="translate(688.63,516.70) scale(0.59,0.495)" stroke-width="2.2" fill="none" stroke="#000" stroke-linecap="round" stroke-linejoin="round"><path vector-effect="non-scaling-stroke" transform="translate(-0.32,0)" d="M11 -24L9 -22L7 -19L5 -15L4 -11L4 -8L5 -4L7 0L9 3L11 5"/><path vector-effect="non-scaling-stroke" transform="translate(12.89,0)" d="M3 -18L18 -3M18 -18L3 -3"/><path vector-effect="non-scaling-stroke" transform="translate(32.96,0)" d="M6 -17L8 -18L11 -21V0"/><path vector-effect="non-scaling-stroke" transform="translate(52.08,0)" d="M4 -21V0M4 -21H17M4 -11H12M4 0H17"/><path vector-effect="non-scaling-stroke" transform="translate(70.20,0)" d="M13 -21L3 -7H18M13 -21V0"/><path vector-effect="non-scaling-stroke" transform="translate(104.34,0)" d="M4 -14V0M4 -10L7 -13L9 -14L12 -14L14 -13L15 -10L15 0M15 -10L18 -13L20 -14L23 -14L25 -13L26 -10L26 0"/><path vector-effect="non-scaling-stroke" transform="translate(133.34,0)" d="M3 -24L5 -22L7 -19L9 -15L10 -11L10 -8L9 -4L7 0L5 3L3 5"/></g>
<g transform="translate(223.32,111.50) scale(1.0,0.87)" stroke-width="2.0" fill="none" stroke="#000" stroke-linecap="round" stroke-linejoin="round" shape-rendering="crispEdges"><path vector-effect="non-scaling-stroke" transform="translate(-0.72,0)" d="M4 -14V7M4 -11L6 -13L8 -14L11 -14L13 -13L15 -11L16 -8L16 -6L15 -3L13 -1L11 0L8 0L6 -1L4 -3"/><path vector-effect="non-scaling-stroke" transform="translate(16.84,0)" d="M8 -14L6 -13L4 -11L3 -8L3 -6L4 -3L6 -1L8 0L11 0L13 -1L15 -3L16 -6L16 -8L15 -11L13 -13L11 -14L8 -14"/><path vector-effect="non-scaling-stroke" transform="translate(34.66,0)" d="M5 -21L5 -4L6 -1L8 0L10 0M2 -14H9"/><path vector-effect="non-scaling-stroke" transform="translate(45.53,0)" d="M3 -8L15 -8L15 -10L14 -12L13 -13L11 -14L8 -14L6 -13L4 -11L3 -8L3 -6L4 -3L6 -1L8 0L11 0L13 -1L15 -3"/><path vector-effect="non-scaling-stroke" transform="translate(62.12,0)" d="M4 -14V0M4 -10L7 -13L9 -14L12 -14L14 -13L15 -10L15 0"/><path vector-effect="non-scaling-stroke" transform="translate(79.95,0)" d="M5 -21L5 -4L6 -1L8 0L10 0M2 -14H9"/><path vector-effect="non-scaling-stroke" transform="translate(91.19,0)" d="M3 -21L4 -20L5 -21L4 -22ZM4 -14V0"/><path vector-effect="non-scaling-stroke" transform="translate(98.16,0)" d="M15 -14V0M15 -11L13 -13L11 -14L8 -14L6 -13L4 -11L3 -8L3 -6L4 -3L6 -1L8 0L11 0L13 -1L15 -3"/><path vector-effect="non-scaling-stroke" transform="translate(116.14,0)" d="M4 -21V0"/><path vector-effect="non-scaling-stroke" transform="translate(138.17,0)" d="M5 -21L5 -4L6 -1L8 0L10 0M2 -14H9"/><path vector-effect="non-scaling-stroke" transform="translate(149.03,0)" d="M3 -8L15 -8L15 -10L14 -12L13 -13L11 -14L8 -14L6 -13L4 -11L3 -8L3 -6L4 -3L6 -1L8 0L11 0L13 -1L15 -3"/><path vector-effect="non-scaling-stroke" transform="translate(165.21,0)" d="M4 -14V0M4 -10L7 -13L9 -14L12 -14L14 -13L15 -10L15 0M15 -10L18 -13L20 -14L23 -14L25 -13L26 -10L26 0"/><path vector-effect="non-scaling-stroke" transform="translate(193.35,0)" d="M4 -14V7M4 -11L6 -13L8 -14L11 -14L13 -13L15 -11L16 -8L16 -6L15 -3L13 -1L11 0L8 0L6 -1L4 -3"/><path vector-effect="non-scaling-stroke" transform="translate(210.95,0)" d="M3 -8L15 -8L15 -10L14 -12L13 -13L11 -14L8 -14L6 -13L4 -11L3 -8L3 -6L4 -3L6 -1L8 0L11 0L13 -1L15 -3"/><path vector-effect="non-scaling-stroke" transform="translate(227.77,0)" d="M4 -14V0M4 -8L5 -11L7 -13L9 -14L12 -14"/><path vector-effect="non-scaling-stroke" transform="translate(239.56,0)" d="M15 -14V0M15 -11L13 -13L11 -14L8 -14L6 -13L4 -11L3 -8L3 -6L4 -3L6 -1L8 0L11 0L13 -1L15 -3"/><path vector-effect="non-scaling-stroke" transform="translate(257.39,0)" d="M5 -21L5 -4L6 -1L8 0L10 0M2 -14H9"/><path vector-effect="non-scaling-stroke" transform="translate(268.21,0)" d="M4 -14L4 -4L5 -1L7 0L10 0L12 -1L15 -4M15 -14V0"/><path vector-effect="non-scaling-stroke" transform="translate(286.00,0)" d="M4 -14V0M4 -8L5 -11L7 -13L9 -14L12 -14"/><path vector-effect="non-scaling-stroke" transform="translate(297.82,0)" d="M3 -8L15 -8L15 -10L14 -12L13 -13L11 -14L8 -14L6 -13L4 -11L3 -8L3 -6L4 -3L6 -1L8 0L11 0L13 -1L15 -3"/><path vector-effect="non-scaling-stroke" transform="translate(329.20,0)" d="M15 -21V0M15 -11L13 -13L11 -14L8 -14L6 -13L4 -11L3 -8L3 -6L4 -3L6 -1L8 0L11 0L13 -1L15 -3"/><path vector-effect="non-scaling-stroke" transform="translate(346.80,0)" d="M3 -8L15 -8L15 -10L14 -12L13 -13L11 -14L8 -14L6 -13L4 -11L3 -8L3 -6L4 -3L6 -1L8 0L11 0L13 -1L15 -3"/><path vector-effect="non-scaling-stroke" transform="translate(363.51,0)" d="M2 -14L8 0L14 -14"/><path vector-effect="non-scaling-stroke" transform="translate(378.60,0)" d="M3 -21L4 -20L5 -21L4 -22ZM4 -14V0"/><path vector-effect="non-scaling-stroke" transform="translate(385.58,0)" d="M15 -14V0M15 -11L13 -13L11 -14L8 -14L6 -13L4 -11L3 -8L3 -6L4 -3L6 -1L8 0L11 0L13 -1L15 -3"/><path vector-effect="non-scaling-stroke" transform="translate(403.40,0)" d="M5 -21L5 -4L6 -1L8 0L10 0M2 -14H9"/><path vector-effect="non-scaling-stroke" transform="translate(414.64,0)" d="M3 -21L4 -20L5 -21L4 -22ZM4 -14V0"/><path vector-effect="non-scaling-stroke" transform="translate(421.62,0)" d="M8 -14L6 -13L4 -11L3 -8L3 -6L4 -3L6 -1L8 0L11 0L13 -1L15 -3L16 -6L16 -8L15 -11L13 -13L11 -14L8 -14"/><path vector-effect="non-scaling-stroke" transform="translate(439.18,0)" d="M4 -14V0M4 -10L7 -13L9 -14L12 -14L14 -13L15 -10L15 0"/></g>
<g transform="translate(777.92,168.15) scale(0.56,0.5)" stroke-width="1.1" fill="none" stroke="#000" stroke-linecap="round" stroke-linejoin="round" shape-rendering="crispEdges"><path vector-effect="non-scaling-stroke" transform="translate(-0.53,0)" d="M5 -21L5 -4L6 -1L8 0L10 0M2 -14H9"/><path vector-effect="non-scaling-stroke" transform="translate(9.81,0)" d="M8 -12H21.5M8 -6H21.5"/><path vector-effect="non-scaling-stroke" transform="translate(33.79,0)" d="M4 -16L4 -17L5 -19L6 -20L8 -21L12 -21L14 -20L15 -19L16 -17L16 -15L15 -13L13 -10L3 0L17 0"/><path vector-effect="non-scaling-stroke" transform="translate(52.48,0)" d="M4.5 -1.6H5.5V-0.4H4.5Z"/><path vector-effect="non-scaling-stroke" transform="translate(61.16,0)" d="M15 -21L5 -21L4 -12L5 -13L8 -14L11 -14L14 -13L16 -11L17 -8L17 -6L16 -3L14 -1L11 0L8 0L5 -1L4 -2L3 -4"/><path vector-effect="non-scaling-stroke" transform="translate(79.41,0)" d="M5 -21L16 -21L10 -13L13 -13L15 -12L16 -11L17 -8L17 -6L16 -3L14 -1L11 0L8 0L5 -1L4 -2L3 -4"/><path vector-effect="non-scaling-stroke" transform="translate(97.66,0)" d="M8 -21L5 -20L4 -18L4 -16L5 -14L7 -13L11 -12L14 -11L16 -9L17 -7L17 -4L16 -2L15 -1L12 0L8 0L5 -1L4 -2L3 -4L3 -7L4 -9L6 -11L9 -12L13 -13L15 -14L16 -16L16 -18L15 -20L12 -21L8 -21"/><path vector-effect="non-scaling-stroke" transform="translate(115.99,0)" d="M3 -8L15 -8L15 -10L14 -12L13 -13L11 -14L8 -14L6 -13L4 -11L3 -8L3 -6L4 -3L6 -1L8 0L11 0L13 -1L15 -3"/><path vector-effect="non-scaling-stroke" transform="translate(132.06,0)" d="M13 -18V0M4 -9H22"/><path vector-effect="non-scaling-stroke" transform="translate(156.05,0)" d="M9 -21L6 -20L4 -17L3 -12L3 -9L4 -4L6 -1L9 0L11 0L14 -1L16 -4L17 -9L17 -12L16 -17L14 -20L11 -21L9 -21"/><path vector-effect="non-scaling-stroke" transform="translate(174.30,0)" d="M16 -18L15 -20L12 -21L10 -21L7 -20L5 -17L4 -12L4 -7L5 -3L7 -1L10 0L11 0L14 -1L16 -3L17 -6L17 -7L16 -10L14 -12L11 -13L10 -13L7 -12L5 -10L4 -7"/></g>
<g transform="translate(893.19,168.15) scale(0.56,0.5)" stroke-width="1.1" fill="none" stroke="#000" stroke-linecap="round" stroke-linejoin="round" shape-rendering="crispEdges"><path vector-effect="non-scaling-stroke" transform="translate(4.25,0)" d="M14 -11L13 -13L10 -14L7 -14L4 -13L3 -11L4 -9L6 -8L11 -7L13 -6L14 -4L14 -3L13 -1L10 0L7 0L4 -1L3 -3"/></g>
<g transform="translate(378.16,545.35) scale(0.8,0.657)" stroke-width="1.9" fill="none" stroke="#000" stroke-linecap="round" stroke-linejoin="round" shape-rendering="crispEdges"><path vector-effect="non-scaling-stroke" transform="translate(-0.76,0)" d="M3 -21L17 0M17 -21L3 0"/><path vector-effect="non-scaling-stroke" transform="translate(32.58,0)" d="M15 -11L13 -13L11 -14L8 -14L6 -13L4 -11L3 -8L3 -6L4 -3L6 -1L8 0L11 0L13 -1L15 -3"/><path vector-effect="non-scaling-stroke" transform="translate(49.18,0)" d="M8 -14L6 -13L4 -11L3 -8L3 -6L4 -3L6 -1L8 0L11 0L13 -1L15 -3L16 -6L16 -8L15 -11L13 -13L11 -14L8 -14"/><path vector-effect="non-scaling-stroke" transform="translate(66.73,0)" d="M8 -14L6 -13L4 -11L3 -8L3 -6L4 -3L6 -1L8 0L11 0L13 -1L15 -3L16 -6L16 -8L15 -11L13 -13L11 -14L8 -14"/><path vector-effect="non-scaling-stroke" transform="translate(84.52,0)" d="M4 -14V0M4 -8L5 -11L7 -13L9 -14L12 -14"/><path vector-effect="non-scaling-stroke" transform="translate(96.30,0)" d="M15 -21V0M15 -11L13 -13L11 -14L8 -14L6 -13L4 -11L3 -8L3 -6L4 -3L6 -1L8 0L11 0L13 -1L15 -3"/><path vector-effect="non-scaling-stroke" transform="translate(114.28,0)" d="M3 -21L4 -20L5 -21L4 -22ZM4 -14V0"/><path vector-effect="non-scaling-stroke" transform="translate(121.25,0)" d="M4 -14V0M4 -10L7 -13L9 -14L12 -14L14 -13L15 -10L15 0"/><path vector-effect="non-scaling-stroke" transform="translate(138.81,0)" d="M15 -14V0M15 -11L13 -13L11 -14L8 -14L6 -13L4 -11L3 -8L3 -6L4 -3L6 -1L8 0L11 0L13 -1L15 -3"/><path vector-effect="non-scaling-stroke" transform="translate(156.63,0)" d="M5 -21L5 -4L6 -1L8 0L10 0M2 -14H9"/><path vector-effect="non-scaling-stroke" transform="translate(167.49,0)" d="M3 -8L15 -8L15 -10L14 -12L13 -13L11 -14L8 -14L6 -13L4 -11L3 -8L3 -6L4 -3L6 -1L8 0L11 0L13 -1L15 -3"/></g>
<g transform="translate(97.40,389.44) rotate(-90) scale(0.8,0.657)" stroke-width="1.9" fill="none" stroke="#000" stroke-linecap="round" stroke-linejoin="round" shape-rendering="crispEdges"><path vector-effect="non-scaling-stroke" transform="translate(-0.76,0)" d="M17 -21L3 0M3 -21H17M3 0H17"/><path vector-effect="non-scaling-stroke" transform="translate(32.58,0)" d="M15 -11L13 -13L11 -14L8 -14L6 -13L4 -11L3 -8L3 -6L4 -3L6 -1L8 0L11 0L13 -1L15 -3"/><path vector-effect="non-scaling-stroke" transform="translate(49.18,0)" d="M8 -14L6 -13L4 -11L3 -8L3 -6L4 -3L6 -1L8 0L11 0L13 -1L15 -3L16 -6L16 -8L15 -11L13 -13L11 -14L8 -14"/><path vector-effect="non-scaling-stroke" transform="translate(66.73,0)" d="M8 -14L6 -13L4 -11L3 -8L3 -6L4 -3L6 -1L8 0L11 0L13 -1L15 -3L16 -6L16 -8L15 -11L13 -13L11 -14L8 -14"/><path vector-effect="non-scaling-stroke" transform="translate(84.52,0)" d="M4 -14V0M4 -8L5 -11L7 -13L9 -14L12 -14"/><path vector-effect="non-scaling-stroke" transform="translate(96.30,0)" d="M15 -21V0M15 -11L13 -13L11 -14L8 -14L6 -13L4 -11L3 -8L3 -6L4 -3L6 -1L8 0L11 0L13 -1L15 -3"/><path vector-effect="non-scaling-stroke" transform="translate(114.28,0)" d="M3 -21L4 -20L5 -21L4 -22ZM4 -14V0"/><path vector-effect="non-scaling-stroke" transform="translate(121.25,0)" d="M4 -14V0M4 -10L7 -13L9 -14L12 -14L14 -13L15 -10L15 0"/><path vector-effect="non-scaling-stroke" transform="translate(138.81,0)" d="M15 -14V0M15 -11L13 -13L11 -14L8 -14L6 -13L4 -11L3 -8L3 -6L4 -3L6 -1L8 0L11 0L13 -1L15 -3"/><path vector-effect="non-scaling-stroke" transform="translate(156.63,0)" d="M5 -21L5 -4L6 -1L8 0L10 0M2 -14H9"/><path vector-effect="non-scaling-stroke" transform="translate(167.49,0)" d="M3 -8L15 -8L15 -10L14 -12L13 -13L11 -14L8 -14L6 -13L4 -11L3 -8L3 -6L4 -3L6 -1L8 0L11 0L13 -1L15 -3"/></g>
<g class="sem"><text x="225" y="112" font-size="26" textLength="454">potential temperature deviation</text><text x="48" y="134.5" font-size="16" textLength="84">(×1E4 m)</text><text x="690" y="517.5" font-size="16" textLength="84">(×1E4 m)</text><text x="778" y="168.5" font-size="16" textLength="125">t=2.538e+06 s</text><text x="379" y="546" font-size="21" textLength="146">X coordinate</text><text transform="translate(98,388.5) rotate(-90)" font-size="21" textLength="146">Z coordinate</text><text x="197.7" y="494.5" font-size="16" text-anchor="middle">1</text><text x="261.3" y="494.5" font-size="16" text-anchor="middle">2</text><text x="324.8" y="494.5" font-size="16" text-anchor="middle">3</text><text x="388.3" y="494.5" font-size="16" text-anchor="middle">4</text><text x="451.8" y="494.5" font-size="16" text-anchor="middle">5</text><text x="515.4" y="494.5" font-size="16" text-anchor="middle">6</text><text x="578.9" y="494.5" font-size="16" text-anchor="middle">7</text><text x="642.4" y="494.5" font-size="16" text-anchor="middle">8</text><text x="706.0" y="494.5" font-size="16" text-anchor="middle">9</text><text x="125" y="399.7" font-size="16" text-anchor="end">2</text><text x="125" y="320.5" font-size="16" text-anchor="end">4</text><text x="125" y="241.3" font-size="16" text-anchor="end">6</text><text x="811" y="275.5" font-size="16">0.32</text><text x="811" y="320.7" font-size="16">0.16</text><text x="811" y="365.9" font-size="16">0</text><text x="811" y="411.1" font-size="16">−0.16</text><text x="811" y="456.3" font-size="16">−0.32</text></g>
</svg>
</body></html>
